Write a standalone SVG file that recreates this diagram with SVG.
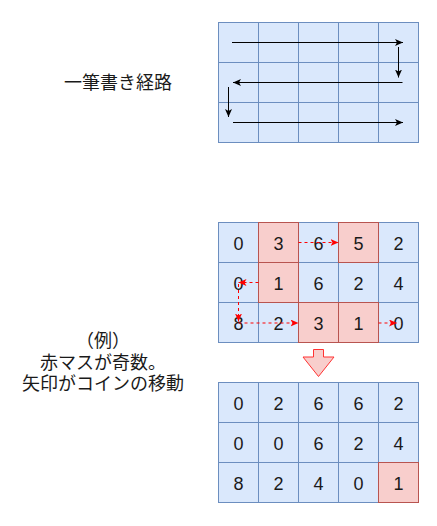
<svg xmlns="http://www.w3.org/2000/svg" width="437" height="526" viewBox="0 0 437 526">
<style>
.b{fill:#dae8fc;stroke:#6c8ebf;stroke-width:1}
.r{fill:#f8cecc;stroke:#b85450;stroke-width:1}
.n{font-family:"Liberation Sans",Arial,sans-serif;font-size:18px;fill:#1a1a1a;text-anchor:middle}
.j{font-family:"Noto Sans CJK JP","Noto Sans",sans-serif;font-size:18px;fill:#1a1a1a;text-anchor:middle}
.k{fill:none;stroke:#000;stroke-width:1}
.d{fill:none;stroke:#ff0000;stroke-width:1;stroke-dasharray:3 3}
</style>
<defs>
<marker id="ak" viewBox="0 0 8 7" refX="8" refY="3.5" markerWidth="8" markerHeight="7" orient="auto" markerUnits="userSpaceOnUse"><path d="M0,0 L8,3.5 L0,7 L2,3.5 Z" fill="#000"/></marker>
<marker id="ar" viewBox="0 0 8 7" refX="8" refY="3.5" markerWidth="8" markerHeight="7" orient="auto" markerUnits="userSpaceOnUse"><path d="M0,0 L8,3.5 L0,7 L2,3.5 Z" fill="#ff0000"/></marker>
</defs>
<rect width="437" height="526" fill="#fff"/>

<g id="label-path"><text class="j" x="118" y="89">一筆書き経路</text></g>
<g id="label-example">
<text class="j" x="103" y="347">（例）</text>
<text class="j" x="103" y="368.5">赤マスが奇数。</text>
<text class="j" x="103" y="390">矢印がコインの移動</text>
</g>

<g id="grid-path">
<rect class="b" x="218.5" y="22.5" width="40" height="40"/><rect class="b" x="258.5" y="22.5" width="40" height="40"/><rect class="b" x="298.5" y="22.5" width="40" height="40"/><rect class="b" x="338.5" y="22.5" width="40" height="40"/><rect class="b" x="378.5" y="22.5" width="40" height="40"/>
<rect class="b" x="218.5" y="62.5" width="40" height="40"/><rect class="b" x="258.5" y="62.5" width="40" height="40"/><rect class="b" x="298.5" y="62.5" width="40" height="40"/><rect class="b" x="338.5" y="62.5" width="40" height="40"/><rect class="b" x="378.5" y="62.5" width="40" height="40"/>
<rect class="b" x="218.5" y="102.5" width="40" height="40"/><rect class="b" x="258.5" y="102.5" width="40" height="40"/><rect class="b" x="298.5" y="102.5" width="40" height="40"/><rect class="b" x="338.5" y="102.5" width="40" height="40"/><rect class="b" x="378.5" y="102.5" width="40" height="40"/>
</g>

<g id="grid-before">
<rect class="b" x="218.5" y="222.5" width="40" height="40"/><rect class="b" x="298.5" y="222.5" width="40" height="40"/><rect class="b" x="378.5" y="222.5" width="40" height="40"/>
<rect class="b" x="218.5" y="262.5" width="40" height="40"/><rect class="b" x="298.5" y="262.5" width="40" height="40"/><rect class="b" x="338.5" y="262.5" width="40" height="40"/><rect class="b" x="378.5" y="262.5" width="40" height="40"/>
<rect class="b" x="218.5" y="302.5" width="40" height="40"/><rect class="b" x="258.5" y="302.5" width="40" height="40"/><rect class="b" x="378.5" y="302.5" width="40" height="40"/>
<rect class="r" x="258.5" y="222.5" width="40" height="40"/><rect class="r" x="338.5" y="222.5" width="40" height="40"/>
<rect class="r" x="258.5" y="262.5" width="40" height="40"/>
<rect class="r" x="298.5" y="302.5" width="40" height="40"/><rect class="r" x="338.5" y="302.5" width="40" height="40"/>
<text class="n" x="238.5" y="249.5">0</text><text class="n" x="278.5" y="249.5">3</text><text class="n" x="318.5" y="249.5">6</text><text class="n" x="358.5" y="249.5">5</text><text class="n" x="398.5" y="249.5">2</text>
<text class="n" x="238.5" y="289.5">0</text><text class="n" x="278.5" y="289.5">1</text><text class="n" x="318.5" y="289.5">6</text><text class="n" x="358.5" y="289.5">2</text><text class="n" x="398.5" y="289.5">4</text>
<text class="n" x="238.5" y="329.5">8</text><text class="n" x="278.5" y="329.5">2</text><text class="n" x="318.5" y="329.5">3</text><text class="n" x="358.5" y="329.5">1</text><text class="n" x="398.5" y="329.5">0</text>
</g>

<g id="down-arrow">
<polygon points="313.5,349.5 323.5,349.5 323.5,357 334,357 318.5,376.5 303,357 313.5,357" fill="#f8cecc" stroke="#ff3333" stroke-width="1"/>
</g>

<g id="grid-after">
<rect class="b" x="218.5" y="382.5" width="40" height="40"/><rect class="b" x="258.5" y="382.5" width="40" height="40"/><rect class="b" x="298.5" y="382.5" width="40" height="40"/><rect class="b" x="338.5" y="382.5" width="40" height="40"/><rect class="b" x="378.5" y="382.5" width="40" height="40"/>
<rect class="b" x="218.5" y="422.5" width="40" height="40"/><rect class="b" x="258.5" y="422.5" width="40" height="40"/><rect class="b" x="298.5" y="422.5" width="40" height="40"/><rect class="b" x="338.5" y="422.5" width="40" height="40"/><rect class="b" x="378.5" y="422.5" width="40" height="40"/>
<rect class="b" x="218.5" y="462.5" width="40" height="40"/><rect class="b" x="258.5" y="462.5" width="40" height="40"/><rect class="b" x="298.5" y="462.5" width="40" height="40"/><rect class="b" x="338.5" y="462.5" width="40" height="40"/>
<rect class="r" x="378.5" y="462.5" width="40" height="40"/>
<text class="n" x="238.5" y="409.5">0</text><text class="n" x="278.5" y="409.5">2</text><text class="n" x="318.5" y="409.5">6</text><text class="n" x="358.5" y="409.5">6</text><text class="n" x="398.5" y="409.5">2</text>
<text class="n" x="238.5" y="449.5">0</text><text class="n" x="278.5" y="449.5">0</text><text class="n" x="318.5" y="449.5">6</text><text class="n" x="358.5" y="449.5">2</text><text class="n" x="398.5" y="449.5">4</text>
<text class="n" x="238.5" y="489.5">8</text><text class="n" x="278.5" y="489.5">2</text><text class="n" x="318.5" y="489.5">4</text><text class="n" x="358.5" y="489.5">0</text><text class="n" x="398.5" y="489.5">1</text>
</g>

<g id="connectors">
<line class="k" x1="232" y1="42.5" x2="403" y2="42.5" marker-end="url(#ak)"/>
<line class="k" x1="398.5" y1="47" x2="398.5" y2="77.5" marker-end="url(#ak)"/>
<line class="k" x1="402.5" y1="82.5" x2="233" y2="82.5" marker-end="url(#ak)"/>
<line class="k" x1="228.5" y1="87" x2="228.5" y2="117" marker-end="url(#ak)"/>
<line class="k" x1="233" y1="122.5" x2="403" y2="122.5" marker-end="url(#ak)"/>
<line class="d" x1="298.5" y1="242.5" x2="338.5" y2="242.5" marker-end="url(#ar)"/>
<line class="d" x1="258.5" y1="282.5" x2="238.5" y2="282.5" marker-end="url(#ar)"/>
<line class="d" x1="238.5" y1="284" x2="238.5" y2="321.5" marker-end="url(#ar)"/>
<line class="d" x1="238.5" y1="323" x2="298.5" y2="323" marker-end="url(#ar)"/>
<line class="d" x1="378.5" y1="323" x2="397" y2="323" marker-end="url(#ar)"/>
</g>
</svg>
